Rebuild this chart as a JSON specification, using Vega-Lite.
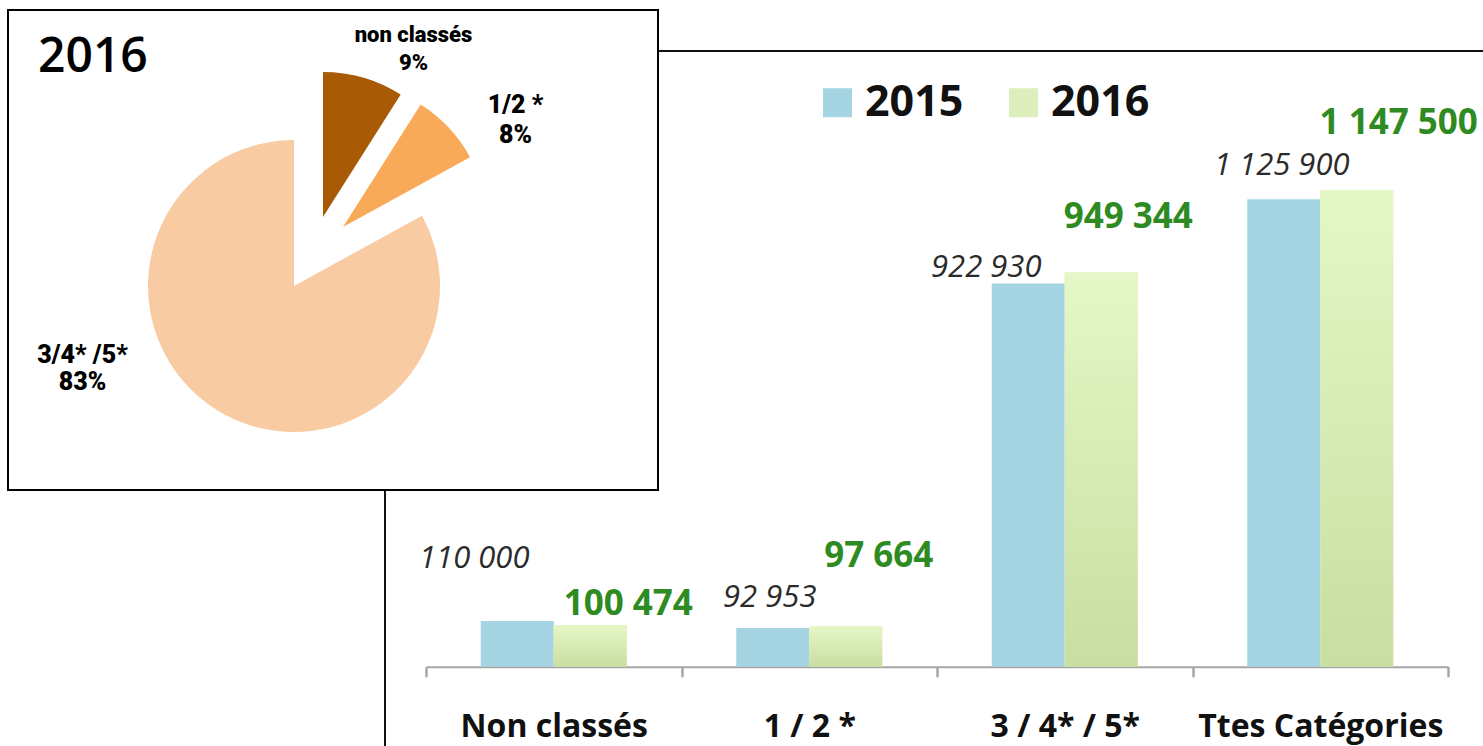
{
  "$schema": "https://vega.github.io/schema/vega-lite/v6.json",
  "background": "white",
  "padding": {"left": 7, "top": 9, "right": -13, "bottom": -16},
  "config": {
    "font": "Open Sans",
    "view": {"stroke": null},
    "locale": {"number": {"decimal": ",", "thousands": " ", "grouping": [3], "currency": ["", " €"]}}
  },
  "datasets": {
    "barres": [
      {"categorie": "Non classés", "annee": "2015", "valeur": 110000},
      {"categorie": "Non classés", "annee": "2016", "valeur": 100474},
      {"categorie": "1 / 2 *", "annee": "2015", "valeur": 92953},
      {"categorie": "1 / 2 *", "annee": "2016", "valeur": 97664},
      {"categorie": "3 / 4* / 5*", "annee": "2015", "valeur": 922930},
      {"categorie": "3 / 4* / 5*", "annee": "2016", "valeur": 949344},
      {"categorie": "Ttes Catégories", "annee": "2015", "valeur": 1125900},
      {"categorie": "Ttes Catégories", "annee": "2016", "valeur": 1147500}
    ],
    "camembert": [
      {"annee": "2016", "cat": "non classés", "part": 0.09, "rang": 1, "etiquette": ["non classés", "9%"]},
      {"annee": "2016", "cat": "1/2 *", "part": 0.08, "rang": 2, "etiquette": ["1/2 *", "8%"]},
      {"annee": "2016", "cat": "3/4* /5*", "part": 0.83, "rang": 3, "etiquette": ["3/4* /5*", "83%"]}
    ]
  },
  "resolve": {"scale": {"color": "independent"}, "legend": {"color": "independent"}},
  "columns": 2,
  "align": "none",
  "spacing": -1489,
  "concat": [
    {
      "spacing": 0,
      "vconcat": [
        {
          "width": 10,
          "height": 40,
          "data": {"values": [{"vide": 1}]},
          "mark": {"type": "point", "opacity": 0},
          "encoding": {}
        },
        {
          "width": 1110,
          "height": 710,
          "view": {"stroke": "#111", "strokeWidth": 2, "fill": null},
          "data": {"name": "barres"},
          "encoding": {
            "x": {
              "field": "categorie", "type": "nominal", "sort": null,
              "scale": {"range": [41, 1063], "paddingInner": 0, "paddingOuter": 0},
              "axis": {
                "title": null, "labelAngle": 0, "offset": -94.3, "labelLimit": 0,
                "domainColor": "#A6A6A6", "domainWidth": 2,
                "tickColor": "#A6A6A6", "tickWidth": 2.5, "tickSize": 10, "tickBand": "extent",
                "labelFont": "Open Sans", "labelFontWeight": "bold", "labelFontSize": 32,
                "labelColor": "#111", "labelBaseline": "alphabetic", "labelPadding": 60
              }
            },
            "xOffset": {"field": "annee", "type": "nominal", "scale": {"paddingInner": 0, "paddingOuter": 0.75}},
            "y": {"field": "valeur", "type": "quantitative", "scale": {"domain": [-227100, 1482600], "nice": false}, "axis": null}
          },
          "layer": [
            {
              "mark": {"type": "bar"},
              "encoding": {
                "color": {
                  "field": "annee", "type": "nominal",
                  "scale": {"domain": ["2015", "2016"], "range": ["#A5D5E2", "#DCEFBD"]},
                  "legend": {
                    "title": null, "orient": "none", "legendX": 431, "legendY": 71,
                    "direction": "horizontal", "symbolType": "square", "symbolSize": 841,
                    "symbolStrokeWidth": 0, "labelFont": "Open Sans", "labelFontWeight": "bold",
                    "labelFontSize": 43, "labelColor": "#111", "labelOffset": 6,
                    "columnPadding": 38, "padding": 0
                  }
                }
              }
            },
            {
              "transform": [{"filter": "datum.annee === '2016'"}],
              "mark": {
                "type": "bar",
                "color": {"gradient": "linear", "x1": 0, "y1": 0, "x2": 0, "y2": 1,
                  "stops": [{"offset": 0, "color": "#E5F7C6"}, {"offset": 1, "color": "#C9DEA2"}]}
              }
            },
            {
              "transform": [{"filter": "datum.annee === '2015' && datum.categorie === 'Non classés'"}],
              "mark": {"type": "text", "dx": -43, "dy": -53, "baseline": "alphabetic", "fontSize": 31, "fontStyle": "italic", "color": "#2B2B2B"},
              "encoding": {"text": {"field": "valeur", "type": "quantitative", "format": ",d"}}
            },
            {
              "transform": [{"filter": "datum.annee === '2015' && datum.categorie === '1 / 2 *'"}],
              "mark": {"type": "text", "dx": -3, "dy": -21, "baseline": "alphabetic", "fontSize": 31, "fontStyle": "italic", "color": "#2B2B2B"},
              "encoding": {"text": {"field": "valeur", "type": "quantitative", "format": ",d"}}
            },
            {
              "transform": [{"filter": "datum.annee === '2015' && datum.categorie === '3 / 4* / 5*'"}],
              "mark": {"type": "text", "dx": -42, "dy": -6, "baseline": "alphabetic", "fontSize": 31, "fontStyle": "italic", "color": "#2B2B2B"},
              "encoding": {"text": {"field": "valeur", "type": "quantitative", "format": ",d"}}
            },
            {
              "transform": [{"filter": "datum.annee === '2015' && datum.categorie === 'Ttes Catégories'"}],
              "mark": {"type": "text", "dx": -2, "dy": -24, "baseline": "alphabetic", "fontSize": 31, "fontStyle": "italic", "color": "#2B2B2B"},
              "encoding": {"text": {"field": "valeur", "type": "quantitative", "format": ",d"}}
            },
            {
              "transform": [{"filter": "datum.annee === '2016' && datum.categorie === 'Non classés'"}],
              "mark": {"type": "text", "dx": 38, "dy": -10, "baseline": "alphabetic", "fontSize": 35, "fontWeight": "bold", "color": "#2E8B22"},
              "encoding": {"text": {"field": "valeur", "type": "quantitative", "format": ",d"}}
            },
            {
              "transform": [{"filter": "datum.annee === '2016' && datum.categorie === '1 / 2 *'"}],
              "mark": {"type": "text", "dx": 33, "dy": -59, "baseline": "alphabetic", "fontSize": 35, "fontWeight": "bold", "color": "#2E8B22"},
              "encoding": {"text": {"field": "valeur", "type": "quantitative", "format": ",d"}}
            },
            {
              "transform": [{"filter": "datum.annee === '2016' && datum.categorie === '3 / 4* / 5*'"}],
              "mark": {"type": "text", "dx": 27, "dy": -44, "baseline": "alphabetic", "fontSize": 35, "fontWeight": "bold", "color": "#2E8B22"},
              "encoding": {"text": {"field": "valeur", "type": "quantitative", "format": ",d"}}
            },
            {
              "transform": [{"filter": "datum.annee === '2016' && datum.categorie === 'Ttes Catégories'"}],
              "mark": {"type": "text", "dx": 42, "dy": -56, "baseline": "alphabetic", "fontSize": 35, "fontWeight": "bold", "color": "#2E8B22"},
              "encoding": {"text": {"field": "valeur", "type": "quantitative", "format": ",d"}}
            }
          ]
        }
      ]
    },
    {
      "width": 650,
      "height": 480,
      "view": {"stroke": "#000", "strokeWidth": 2, "fill": "#FFFFFF"},
      "data": {"name": "camembert"},
      "transform": [{"stack": "part", "groupby": [], "sort": [{"field": "rang", "order": "ascending"}], "as": ["t0", "t1"]}],
      "layer": [
        {
          "transform": [{"filter": "datum.rang === 3"}],
          "mark": {"type": "arc", "radius": 146, "xOffset": -39, "yOffset": 36},
          "encoding": {
            "theta": {"field": "t0", "type": "quantitative", "scale": {"domain": [0, 1]}},
            "theta2": {"field": "t1"},
            "color": {"field": "cat", "type": "nominal", "scale": {"domain": ["non classés", "1/2 *", "3/4* /5*"], "range": ["#A85A05", "#F8AA58", "#F9CBA3"]}, "legend": null}
          }
        },
        {
          "transform": [{"filter": "datum.rang === 1"}],
          "mark": {"type": "arc", "radius": 145, "xOffset": -10, "yOffset": -33},
          "encoding": {
            "theta": {"field": "t0", "type": "quantitative", "scale": {"domain": [0, 1]}},
            "theta2": {"field": "t1"},
            "color": {"field": "cat", "type": "nominal", "legend": null}
          }
        },
        {
          "transform": [{"filter": "datum.rang === 2"}],
          "mark": {"type": "arc", "radius": 145, "xOffset": 10, "yOffset": -23},
          "encoding": {
            "theta": {"field": "t0", "type": "quantitative", "scale": {"domain": [0, 1]}},
            "theta2": {"field": "t1"},
            "color": {"field": "cat", "type": "nominal", "legend": null}
          }
        },
        {
          "transform": [{"filter": "datum.rang === 1"}],
          "mark": {"type": "text", "dx": -295, "dy": -178, "align": "left", "baseline": "alphabetic", "font": "Open Sans", "fontWeight": 600, "fontSize": 48, "color": "#000"},
          "encoding": {"text": {"field": "annee", "type": "nominal"}}
        },
        {
          "transform": [{"filter": "datum.rang === 1"}],
          "mark": {"type": "text", "dx": 80.5, "dy": -208, "align": "center", "baseline": "alphabetic", "font": "Roboto", "fontWeight": 900, "fontSize": 22, "lineHeight": 28, "color": "#000"},
          "encoding": {"text": {"field": "etiquette", "type": "nominal"}}
        },
        {
          "transform": [{"filter": "datum.rang === 2"}],
          "mark": {"type": "text", "dx": 182.5, "dy": -137, "align": "center", "baseline": "alphabetic", "font": "Roboto", "fontWeight": 900, "fontSize": 25, "lineHeight": 30, "color": "#000"},
          "encoding": {"text": {"field": "etiquette", "type": "nominal"}}
        },
        {
          "transform": [{"filter": "datum.rang === 3"}],
          "mark": {"type": "text", "dx": -250.5, "dy": 113, "align": "center", "baseline": "alphabetic", "font": "Roboto", "fontWeight": 900, "fontSize": 25, "lineHeight": 27, "color": "#000"},
          "encoding": {"text": {"field": "etiquette", "type": "nominal"}}
        }
      ]
    }
  ]
}
